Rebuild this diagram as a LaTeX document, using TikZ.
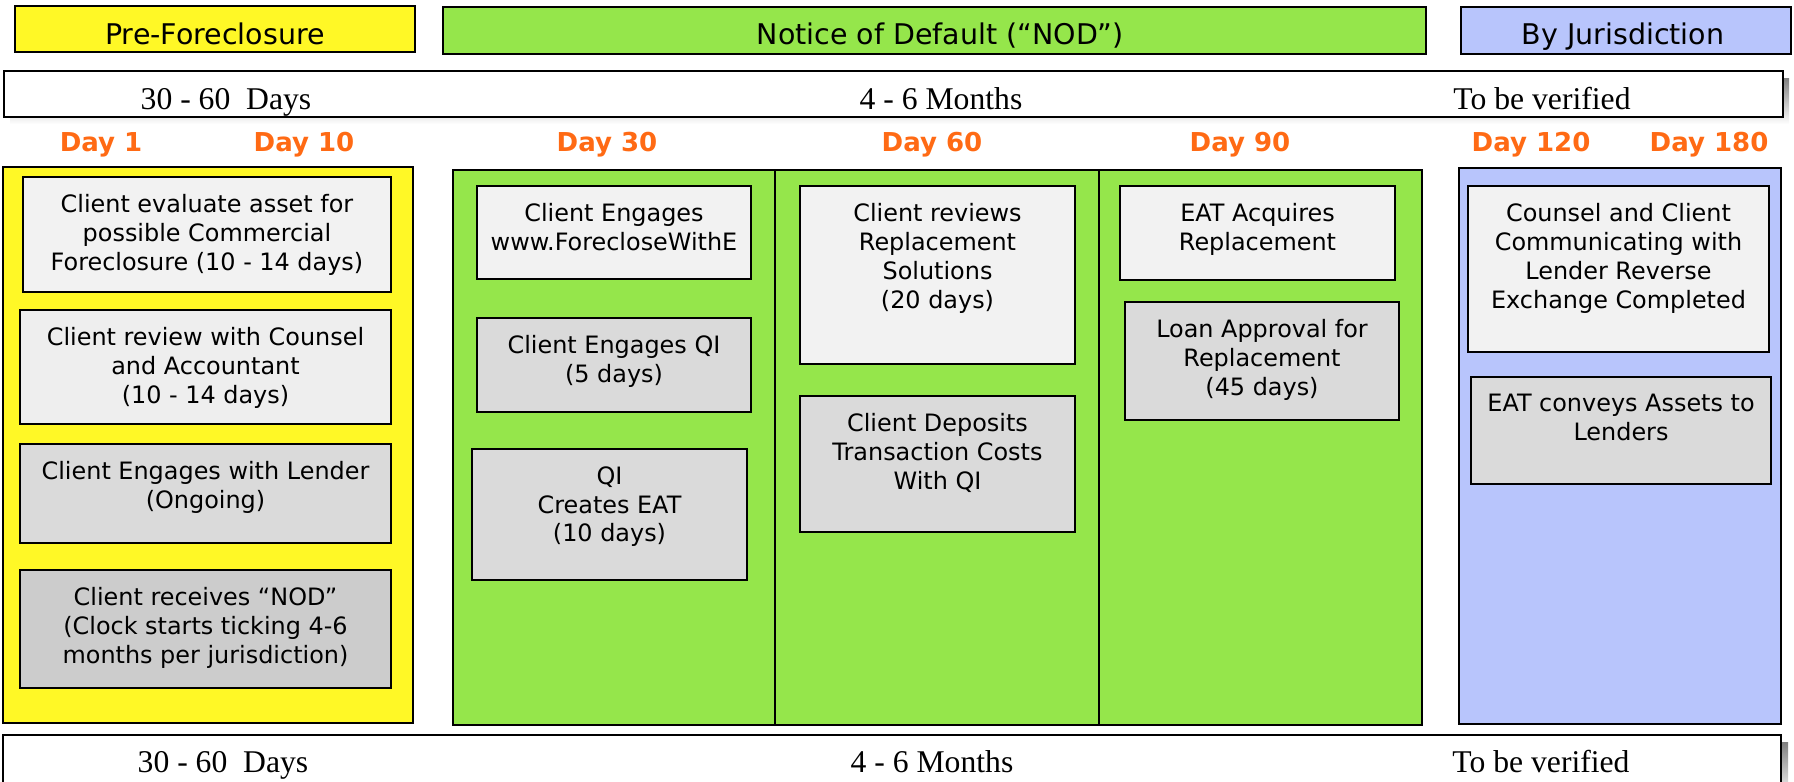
\documentclass[tikz,border=0pt]{standalone}
\usepackage{fontspec}
\setmainfont{Liberation Serif}
\newfontfamily\tahoma{DejaVu Sans}
\usepackage{tikz}
\usetikzlibrary{fit}

\definecolor{preyellow}{HTML}{FFF826}
\definecolor{nodgreen}{HTML}{95E64B}
\definecolor{jurblue}{HTML}{B8C5FC}
\definecolor{dayorange}{HTML}{FF6A14}
\definecolor{cardlight}{HTML}{F2F2F2}
\definecolor{cardpale}{HTML}{EEEEEE}
\definecolor{cardmid}{HTML}{DADADA}
\definecolor{carddark}{HTML}{CCCCCC}
\definecolor{shade}{HTML}{C8C8C8}

\begin{document}
\begin{tikzpicture}[x=0.01cm,y=-0.01cm,line width=0.8pt]
\tikzstyle{panel}=[draw=black,inner sep=0pt]
\tikzstyle{card}=[draw=black,inner sep=0pt]
\tikzstyle{cardtext}=[anchor=north,align=center,inner sep=0pt,yshift=-0.175cm,font=\tahoma\fontsize{6.8}{8.2}\selectfont]
\tikzstyle{headtext}=[anchor=base,inner sep=0pt,font=\tahoma\fontsize{8.1}{9.7}\selectfont]
\tikzstyle{daytext}=[anchor=base,inner sep=0pt,text=dayorange,font=\tahoma\bfseries\fontsize{7.4}{9}\selectfont]
\tikzstyle{spantext}=[anchor=base,inner sep=0pt,font=\fontsize{9}{11}\selectfont]

\useasboundingbox (0,0) rectangle (1794,781);
\clip (0,0) rectangle (1794,781);

% headers
\node[panel,fill=preyellow,fit={(15,6) (415,52)}] (prehead) {};
\node[panel,fill=nodgreen,fit={(443,7) (1426,54)}] (nodhead) {};
\node[panel,fill=jurblue,fit={(1461,7) (1791,54)}] (jurhead) {};
\node[headtext] (pretitle) at (215,44) {Pre-Foreclosure};
\node[headtext] (nodtitle) at (940,44) {Notice of Default (“NOD”)};
\node[headtext] (jurtitle) at (1623,44) {By Jurisdiction};

% time spans
\fill[shade] (10,78) rectangle (1789,124);
\node[panel,fill=white,fit={(4,71) (1783,117)}] (topband) {};
\node[spantext] (topdays) at (226,109) {30 - 60~~Days};
\node[spantext] (topmonths) at (941,109) {4 - 6 Months};
\node[spantext] (topverify) at (1542,109) {To be verified};

\node[daytext] (day1) at (101,151) {Day 1};
\node[daytext] (day10) at (304,151) {Day 10};
\node[daytext] (day30) at (607,151) {Day 30};
\node[daytext] (day60) at (932,151) {Day 60};
\node[daytext] (day90) at (1240,151) {Day 90};
\node[daytext] (day120) at (1531,151) {Day 120};
\node[daytext] (day180) at (1709,151) {Day 180};

% columns
\node[panel,fill=preyellow,fit={(3,167) (413,723)}] (prepanel) {};
\node[panel,fill=nodgreen,fit={(453,170) (775,725)}] (nod30) {};
\node[panel,fill=nodgreen,fit={(775,170) (1099,725)}] (nod60) {};
\node[panel,fill=nodgreen,fit={(1099,170) (1422,725)}] (nod90) {};
\node[panel,fill=jurblue,fit={(1459,168) (1781,724)}] (jurpanel) {};

\node[card,fill=cardlight,fit={(23,177) (391,292)}] (evaluate) {};
\node[cardtext] (evaluatetext) at (evaluate.north) {Client evaluate asset for\\possible Commercial\\Foreclosure (10 - 14 days)};
\node[card,fill=cardpale,fit={(20,310) (391,424)}] (review) {};
\node[cardtext] (reviewtext) at (review.north) {Client review with Counsel\\and Accountant\\(10 - 14 days)};
\node[card,fill=cardmid,fit={(20,444) (391,543)}] (lender) {};
\node[cardtext] (lendertext) at (lender.north) {Client Engages with Lender\\(Ongoing)};
\node[card,fill=carddark,fit={(20,570) (391,688)}] (receives) {};
\node[cardtext] (receivestext) at (receives.north) {Client receives “NOD”\\(Clock starts ticking 4-6\\months per jurisdiction)};

\node[card,fill=cardlight,fit={(477,186) (751,279)}] (website) {};
\node[cardtext] (websitetext) at (website.north) {Client Engages\\www.ForecloseWithE};
\node[card,fill=cardmid,fit={(477,318) (751,412)}] (engageqi) {};
\node[cardtext] (engageqitext) at (engageqi.north) {Client Engages QI\\(5 days)};
\node[card,fill=cardmid,fit={(472,449) (747,580)}] (createeat) {};
\node[cardtext] (createeattext) at (createeat.north) {QI\\Creates EAT\\(10 days)};

\node[card,fill=cardlight,fit={(800,186) (1075,364)}] (solutions) {};
\node[cardtext] (solutionstext) at (solutions.north) {Client reviews\\Replacement\\Solutions\\(20 days)};
\node[card,fill=cardmid,fit={(800,396) (1075,532)}] (deposits) {};
\node[cardtext] (depositstext) at (deposits.north) {Client Deposits\\Transaction Costs\\With QI};

\node[card,fill=cardlight,fit={(1120,186) (1395,280)}] (acquires) {};
\node[cardtext] (acquirestext) at (acquires.north) {EAT Acquires\\Replacement};
\node[card,fill=cardmid,fit={(1125,302) (1399,420)}] (loan) {};
\node[cardtext] (loantext) at (loan.north) {Loan Approval for\\Replacement\\(45 days)};

\node[card,fill=cardlight,fit={(1468,186) (1769,352)}] (counsel) {};
\node[cardtext] (counseltext) at (counsel.north) {Counsel and Client\\Communicating with\\Lender Reverse\\Exchange Completed};
\node[card,fill=cardmid,fit={(1471,377) (1771,484)}] (conveys) {};
\node[cardtext] (conveystext) at (conveys.north) {EAT conveys Assets to\\Lenders};

% bottom span
\fill[shade] (10,742) rectangle (1788,800);
\node[panel,fill=white,fit={(3,735) (1781,800)}] (bottomband) {};
\node[spantext] (bottomdays) at (223,772) {30 - 60~~Days};
\node[spantext] (bottommonths) at (932,772) {4 - 6 Months};
\node[spantext] (bottomverify) at (1541,772) {To be verified};
\end{tikzpicture}
\end{document}
